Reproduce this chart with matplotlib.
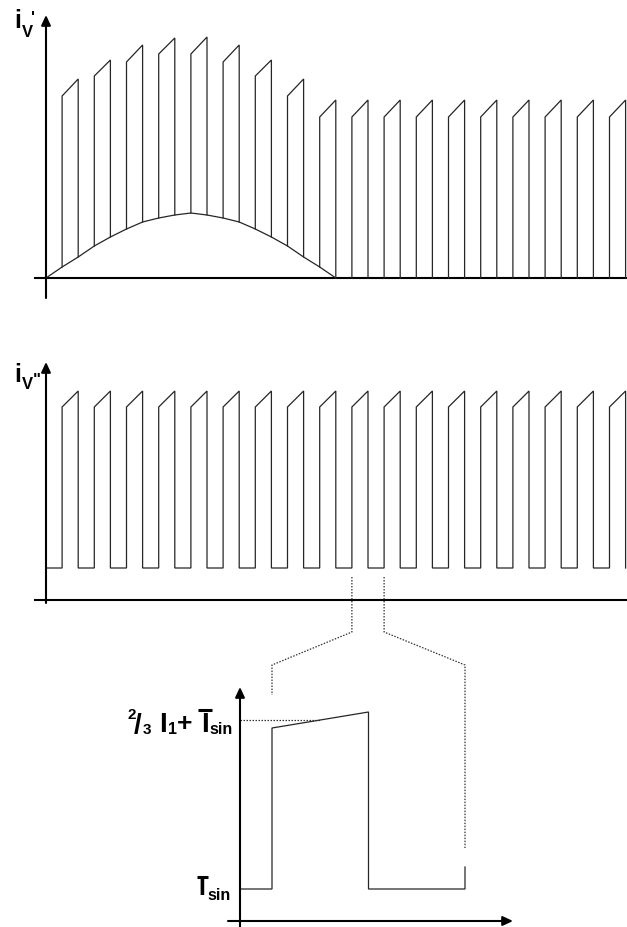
import numpy as np
import matplotlib
matplotlib.use("Agg")
import matplotlib.pyplot as plt
from matplotlib.lines import Line2D

plt.rcParams["font.family"] = ["Liberation Sans", "DejaVu Sans"]

# ---------------- data ----------------
# pulse switching instants (in units of the switching period)
pulse_start = [0.5, 1.5, 2.5, 3.5, 4.5, 5.5, 6.5, 7.5, 8.5,
               9.5, 10.5, 11.5, 12.5, 13.5, 14.5, 15.5, 16.5, 17.5]
pulse_end = [1.0, 2.0, 3.0, 4.0, 5.0, 6.0, 7.0, 8.0, 9.0,
             10.0, 11.0, 12.0, 13.0, 14.0, 15.0, 16.0, 17.0, 18.0]

# upper trace i_V' : pulse tops (left / right edge)
top_left_1 = [182, 202, 216, 224, 224, 216, 202, 182, 161,
              161, 161, 161, 161, 161, 161, 161, 161, 161]
top_right_1 = [199, 218, 233, 240, 241, 233, 218, 199, 178,
               178, 178, 178, 178, 178, 178, 178, 178, 178]
# sinusoidal hump under the first pulses
hump_t = [0.0, 0.5, 1.0, 1.5, 2.0, 2.5, 3.0, 3.5, 4.0, 4.5,
          5.0, 5.5, 6.0, 6.5, 7.0, 7.5, 8.0, 8.5, 9.0]
hump_v = [0, 11, 21, 32, 41, 49, 56, 60, 63, 65,
          63, 60, 56, 49, 41, 32, 21, 11, 0]

# middle trace i_V'' : constant offset plus pulses
low_2 = 32
top_left_2 = [193, 193, 193, 193, 193, 193, 193, 193, 193,
              193, 193, 193, 193, 193, 193, 193, 193, 193]
top_right_2 = [209, 209, 209, 209, 209, 209, 209, 209, 209,
               209, 209, 209, 209, 209, 209, 209, 209, 209]

# zoomed pulse (bottom)
zoom_pulse = 9                 # index of the magnified pulse
ref_level = 201                # 2/3 I1 + I_sin
partial_edge = 54              # visible part of the following rising edge

# ---------------- layout ----------------
W, H = 627, 927
fig = plt.figure(figsize=(W / 100, H / 100), dpi=100)


def panel(x0px, t0, sx, y0px):
    ax = fig.add_axes([0, 0, 1, 1])
    ax.set_xlim(t0 + (0 - x0px) / sx, t0 + (W - x0px) / sx)
    ax.set_ylim(y0px - H, y0px)
    ax.axis("off")
    ax.patch.set_alpha(0)
    return ax


ax1 = panel(46, 0.0, 32.2, 278)
ax2 = panel(46, 0.0, 32.2, 600)
ax3 = panel(272, 9.5, 193, 921)

WAVE = dict(color="#262626", lw=0.9, solid_joinstyle="miter")
AXL = dict(color="black", lw=1.5)
DOT = dict(color="#333333", lw=0.9, ls=(0, (1.2, 1.2)))


def arrow(ax, x0, y0, x1, y1):
    ax.annotate("", xy=(x1, y1), xytext=(x0, y0),
                arrowprops=dict(arrowstyle="-|>,head_length=0.6,head_width=0.28",
                                color="black", lw=1.5, shrinkA=0, shrinkB=0,
                                mutation_scale=10))


def px2data(ax, px, py):
    return ax.transData.inverted().transform((px, H - py))


# ---------- top panel ----------
arrow(ax1, 0, -20, 0, 263)
ax1.plot([-0.34, 18.1], [0, 0], **AXL)
ax1.plot(hump_t, hump_v, **WAVE)
base_s = np.interp(pulse_start, hump_t, hump_v, right=0)
base_e = np.interp(pulse_end, hump_t, hump_v, right=0)
for s, e, tl, tr, bs, be in zip(pulse_start, pulse_end, top_left_1,
                                top_right_1, base_s, base_e):
    ax1.plot([s, s, e, e], [bs, tl, tr, be], **WAVE)

# ---------- middle panel ----------
arrow(ax2, 0, -3, 0, 238)
ax2.plot([-0.34, 18.1], [0, 0], **AXL)
xs, ys = [0.0], [low_2]
for s, e, tl, tr in zip(pulse_start, pulse_end, top_left_2, top_right_2):
    xs += [s, s, e, e]
    ys += [low_2, tl, tr, low_2]
ax2.plot(xs, ys, **WAVE)

# ---------- bottom panel ----------
k = zoom_pulse
t_axis = pulse_start[k] - 32 / 193
arrow(ax3, t_axis, -8, t_axis, 234)
arrow(ax3, pulse_start[k] - 44 / 193, 0, pulse_start[k] + 241 / 193, 0)
ax3.plot([t_axis, pulse_start[k], pulse_start[k], pulse_end[k], pulse_end[k],
          pulse_start[k + 1], pulse_start[k + 1]],
         [low_2, low_2, top_left_2[k], top_right_2[k], low_2, low_2, partial_edge],
         **WAVE)
t_mid = (pulse_start[k] + pulse_end[k]) / 2
ax3.plot([t_axis, t_mid], [ref_level, ref_level], **DOT)

# ---------- zoom connectors ----------
inv = fig.transFigure.inverted()
for t, y_end in [(pulse_start[k], 226), (pulse_start[k + 1], 73)]:
    pts = [ax2.transData.transform((t, 23)),
           ax2.transData.transform((t, -32)),
           ax3.transData.transform((t, 256)),
           ax3.transData.transform((t, y_end))]
    pts = inv.transform(np.array(pts))
    fig.add_artist(Line2D(pts[:, 0], pts[:, 1], transform=fig.transFigure, **DOT))


# ---------- labels (text pieces) ----------
def put(ax, px, py, s, size):
    x, y = px2data(ax, px, py)
    ax.text(x, y, s, fontsize=size, fontweight="bold", ha="left",
            va="baseline", color="black")


def bar(ax, px0, px1, py, lw=2.2):
    p0 = px2data(ax, px0, py)
    p1 = px2data(ax, px1, py)
    ax.plot([p0[0], p1[0]], [p0[1], p1[1]], color="black", lw=lw,
            solid_capstyle="butt")


# i_V'
put(ax1, 14, 28, "i", 18)
put(ax1, 22, 37, "V", 12)
put(ax1, 31, 23, "'", 12)
# i_V''
put(ax2, 14, 382, "i", 18)
put(ax2, 22, 389, "V", 12)
put(ax2, 33, 385, '"', 12)

# 2/3 I1 + I_sin
put(ax3, 127, 719, "2", 11)
put(ax3, 134, 733, "/", 20)
put(ax3, 143, 734, "3", 11)
put(ax3, 159, 732, "I", 20)
put(ax3, 168, 734, "1", 11.5)
put(ax3, 177, 731, "+", 19)
put(ax3, 201, 732, "I", 20)
bar(ax3, 198, 212, 709.5)
put(ax3, 209, 734, "sin", 11.5)

# I_sin
put(ax3, 198.5, 895, "I", 18)
bar(ax3, 196.5, 207.5, 876.5)
put(ax3, 207, 900, "sin", 11.5)

fig.savefig("out.png", dpi=100)
